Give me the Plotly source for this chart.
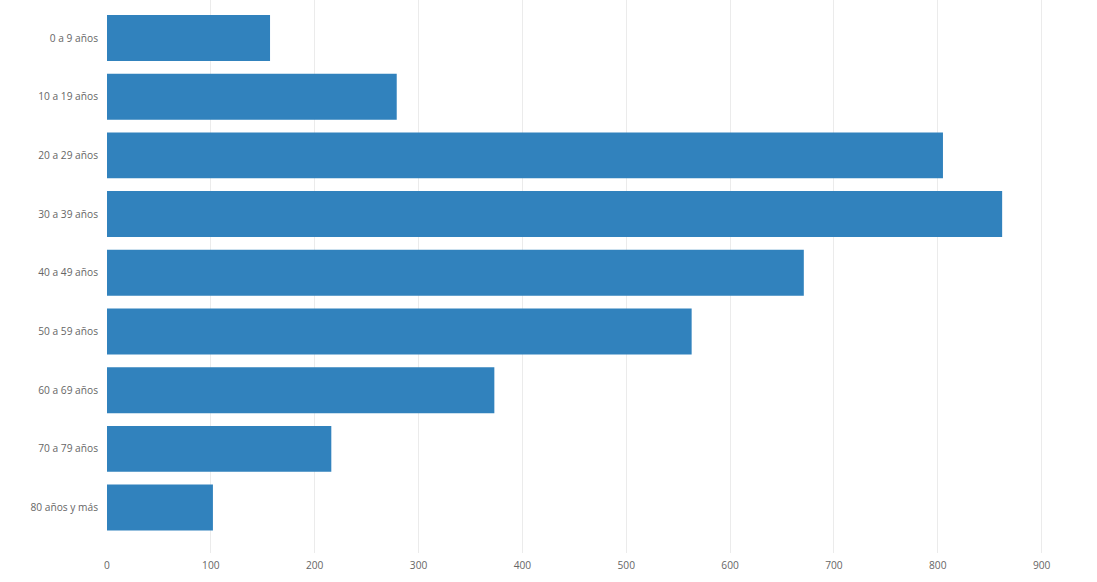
import plotly.graph_objects as go

categories = ["0 a 9 años", "10 a 19 años", "20 a 29 años", "30 a 39 años", "40 a 49 años",
              "50 a 59 años", "60 a 69 años", "70 a 79 años", "80 años y más"]
values = [157, 279, 805, 862, 671, 563, 373, 216, 102]
x_ticks = [0, 100, 200, 300, 400, 500, 600, 700, 800, 900]

fig = go.Figure(go.Bar(
    x=values, y=categories, orientation="h",
    marker=dict(color="#3182bd", line=dict(width=0)),
    hoverinfo="x+y",
))

fig.update_layout(
    width=1097, height=582,
    margin=dict(l=107, r=45, t=0, b=29),
    paper_bgcolor="white", plot_bgcolor="white",
    bargap=0.217,
    showlegend=False,
    font=dict(family="Open Sans, sans-serif", size=10.2, color="#666666"),
    xaxis=dict(range=[0, 910], tickvals=x_ticks, showgrid=True, gridcolor="#ebebeb",
               gridwidth=1, zeroline=False, showline=False, ticks="", ticklabelstandoff=5,
               tickfont=dict(size=10.2, color="#666666")),
    yaxis=dict(categoryorder="array", categoryarray=categories, range=[8.774, -0.647],
               showgrid=False, zeroline=False, showline=False, ticks="", ticklabelstandoff=8,
               tickfont=dict(size=10.2, color="#666666")),
)

fig.write_html("out.html")
